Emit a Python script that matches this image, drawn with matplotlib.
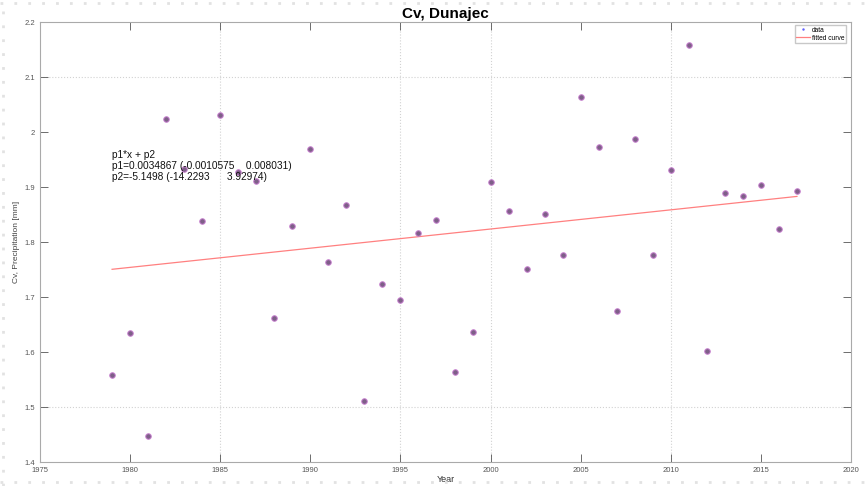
import numpy as np
import matplotlib
matplotlib.use('Agg')
import matplotlib.pyplot as plt
from matplotlib.lines import Line2D

# Cv of precipitation, Dunajec, per year
years = list(range(1979, 2018))
cv = [1.558, 1.635, 1.447, 2.024, 1.933, 1.838, 2.031, 1.927, 1.911, 1.662,
      1.829, 1.969, 1.763, 1.867, 1.511, 1.724, 1.694, 1.817, 1.840, 1.563,
      1.636, 1.910, 1.856, 1.751, 1.851, 1.776, 2.064, 1.973, 1.674, 1.988,
      1.776, 1.931, 2.159, 1.602, 1.889, 1.883, 1.904, 1.824, 1.893]

# linear fit p1*x + p2 as printed on the chart
p1 = 0.0034867
p2 = -5.1498
fit_text = ['p1*x + p2',
            'p1=0.0034867 (-0.0010575    0.008031)',
            'p2=-5.1498 (-14.2293      3.92974)']

# only these grid lines survive in the (downscaled) reference
grid_x = [1985, 1995, 2000, 2010]
grid_y = [1.5, 2.1]

xs = np.array(years, dtype=np.float64)
fitted = p1 * xs + p2

plt.rcParams['font.family'] = ['Liberation Sans', 'DejaVu Sans']

fig = plt.figure(figsize=(8.68, 4.86), dpi=100)
ax = fig.add_axes([40/868, 24/486, 811/868, 440/486])

for gx in grid_x:
    ax.axvline(gx, linestyle=':', color='#d2d2d2', lw=0.8, zorder=1)
for gy in grid_y:
    ax.axhline(gy, linestyle=':', color='#d2d2d2', lw=0.8, zorder=1)

ax.plot(xs, fitted, color='#ff8080', lw=0.9, zorder=2)
ax.plot(xs, cv, 'o', ms=4.0, mfc='#7e5f88', mec='#c880d0', mew=0.7,
        linestyle='none', zorder=3)
# legend entry for data is a tiny blue dot
h_data = Line2D([], [], marker='.', ms=1.5, color='#6060ff', linestyle='none')
h_fit = Line2D([], [], color='#ff8080', lw=0.9)
ax.legend([h_data, h_fit], ['data', 'fitted curve'], loc='upper right',
          prop={'size': 4.8}, frameon=True, fancybox=False, edgecolor='#bbbbbb',
          handlelength=2.0, handletextpad=0.3, borderpad=0.25, labelspacing=0.15,
          borderaxespad=0, bbox_to_anchor=(0.9935, 0.993))

ax.set_xlim(1975, 2020)
ax.set_ylim(1.4, 2.2)
ax.set_xticks(np.arange(1975, 2021, 5))
ax.set_yticks(np.arange(1.4, 2.21, 0.1))
ax.set_yticklabels(['1.4', '1.5', '1.6', '1.7', '1.8', '1.9', '2', '2.1', '2.2'])
ax.tick_params(direction='in', labelsize=5.5, colors='#555555', length=5.5,
               top=True, right=True, width=0.6)
for s in ax.spines.values():
    s.set_color('#aaaaaa')
    s.set_linewidth(0.8)

ax.set_title('Cv, Dunajec', fontsize=11, fontweight='bold', pad=3)
ax.set_xlabel('Year', fontsize=6.5, color='#333333', labelpad=1)
ax.set_ylabel('Cv, Precipitation [mm]', fontsize=6, color='#444444', labelpad=3)

ax.text(1979.0, 1.968, '\n'.join(fit_text), fontsize=7.3, va='top', ha='left',
        linespacing=1.15, color='#111111', zorder=4)

# dotted screenshot frame
for xy in [([0.004, 0.004], [0, 1]), ([0, 1], [0.994, 0.994]), ([0, 1], [0.008, 0.008])]:
    fig.add_artist(Line2D(xy[0], xy[1], transform=fig.transFigure,
                          color='#e2e2e2', lw=2, linestyle=(0, (1, 4))))

fig.savefig('out.png', dpi=100)
